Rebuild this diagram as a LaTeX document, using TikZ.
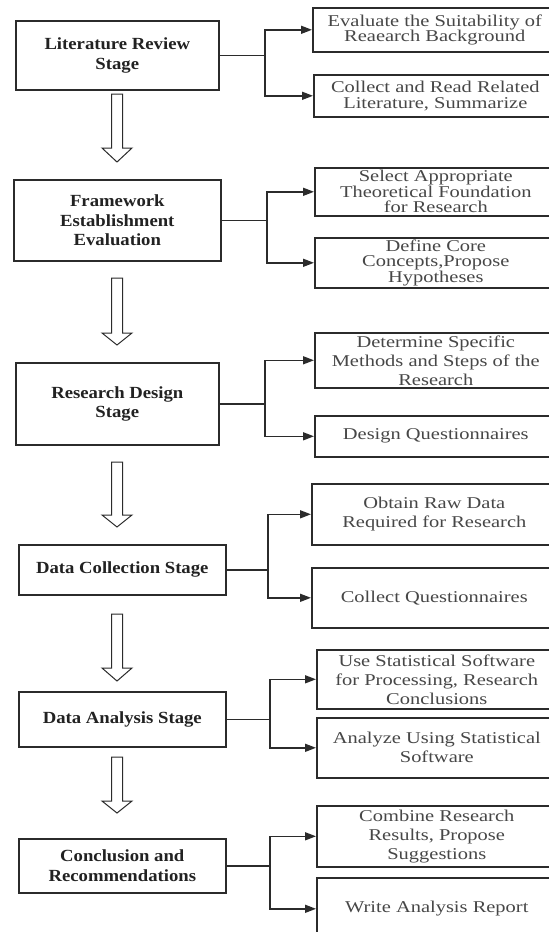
\documentclass[tikz,border=0pt]{standalone}
\usepackage{fontspec}
\setmainfont{Liberation Serif}
\newfontfamily\stagefont{Liberation Serif}[FakeStretch=1.1]
\newfontfamily\taskfont{Liberation Serif}[FakeStretch=1.24]
\usetikzlibrary{arrows.meta,calc}
\definecolor{ln}{HTML}{2B2B2B}
\definecolor{txl}{HTML}{222222}
\definecolor{txr}{HTML}{474747}
\tikzset{
  stage/.style={draw=ln, line width=1.6pt, align=center, text=txl,
    font=\stagefont\fontsize{17}{19.5}\selectfont\bfseries, inner sep=0pt, anchor=north west},
  task/.style={draw=ln, line width=1.6pt, align=center, text=txr,
    font=\taskfont\fontsize{16.5}{15.5}\selectfont, inner sep=0pt, anchor=north west},
  tasktall/.style={task, font=\taskfont\fontsize{16.5}{19}\selectfont},
  conn/.style={draw=ln, line width=1.5pt},
  tip/.style={conn, -{Triangle[length=11pt,width=8pt]}},
  hollow/.style={draw=ln, line width=1pt, fill=white, line join=miter},
}
\newcommand\hollowdown[3]{%
  \draw[hollow] (111.5,#1) -- (111.5,#2) -- (102,#2) -- (117,#3) -- (132,#2)
    -- (122.5,#2) -- (122.5,#1) -- cycle;}
\begin{document}
\begin{tikzpicture}[x=1pt,y=-1pt]
\useasboundingbox (0,0) rectangle (549,932);
\clip (0,0) rectangle (549,932);
\fill[white] (0,0) rectangle (549,932);

% stages
\node[stage, minimum width=203, minimum height=69] (L1) at (15,20) {Literature Review\\Stage};
\node[stage, minimum width=207, minimum height=81] (L2) at (13,179) {Framework\\Establishment\\Evaluation};
\node[stage, minimum width=203, minimum height=82] (L3) at (15,362) {Research Design\\Stage};
\node[stage, minimum width=207, minimum height=50] (L4) at (18,544) {Data Collection Stage};
\node[stage, minimum width=207, minimum height=55] (L5) at (18,691) {Data Analysis Stage};
\node[stage, minimum width=207, minimum height=54] (L6) at (18,838) {Conclusion and\\Recommendations};

% tasks
\node[task, minimum width=244, minimum height=44] (R1) at (312,7) {Evaluate the Suitability of\\Reaearch Background};
\node[task, minimum width=243, minimum height=42] (R2) at (313,74) {Collect and Read Related\\Literature, Summarize};
\node[task, minimum width=242, minimum height=48] (R3) at (314,167) {Select Appropriate\\Theoretical Foundation\\for Research};
\node[task, minimum width=242, minimum height=50] (R4) at (314,237) {Define Core\\Concepts,Propose\\Hypotheses};
\node[tasktall, minimum width=242, minimum height=55] (R5) at (314,332) {Determine Specific\\Methods and Steps of the\\Research};
\node[task, minimum width=242, minimum height=41] (R6) at (314,415) {Design Questionnaires};
\node[tasktall, minimum width=245, minimum height=61] (R7) at (311,483) {Obtain Raw Data\\Required for Research};
\node[task, minimum width=245, minimum height=60] (R8) at (311,567) {Collect Questionnaires};
\node[tasktall, minimum width=240, minimum height=59] (R9) at (316,649) {Use Statistical Software\\for Processing, Research\\Conclusions};
\node[tasktall, minimum width=240, minimum height=60] (R10) at (316,717) {Analyze Using Statistical\\Software};
\node[tasktall, minimum width=240, minimum height=61] (R11) at (316,805) {Combine Research\\Results, Propose\\Suggestions};
\node[task, minimum width=240, minimum height=62] (R12) at (316,877) {Write Analysis Report};

% junctions
\coordinate (J1) at (265,0 |- L1.east);
\coordinate (J2) at (267,0 |- L2.east);
\coordinate (J3) at (265,0 |- L3.east);
\coordinate (J4) at (268,0 |- L4.east);
\coordinate (J5) at (270,0 |- L5.east);
\coordinate (J6) at (270,0 |- L6.east);

\foreach \i/\a/\b in {1/1/2, 2/3/4, 3/5/6, 4/7/8, 5/9/10, 6/11/12}{
  \draw[conn] (L\i.east) -- (J\i);
  \draw[tip] (J\i) |- (R\a.west);
  \draw[tip] (J\i) |- (R\b.west);
}

% hollow arrows between stages
\hollowdown{94}{148}{162}
\hollowdown{278}{333}{345}
\hollowdown{462}{515}{527}
\hollowdown{614}{668}{681}
\hollowdown{757}{801}{813}
\end{tikzpicture}
\end{document}
